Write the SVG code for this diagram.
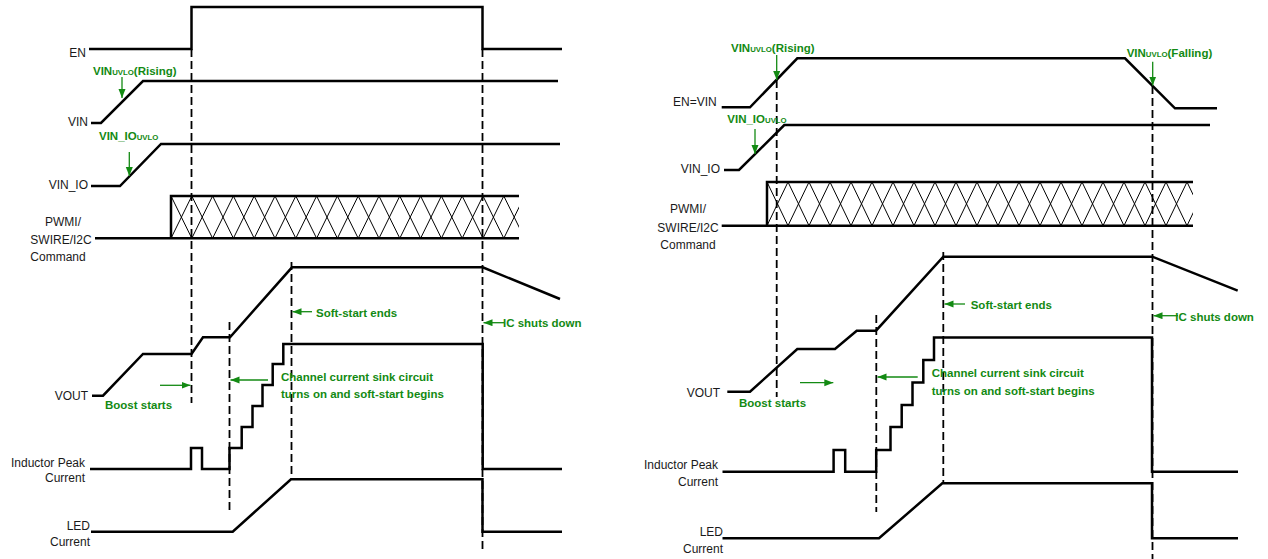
<svg xmlns="http://www.w3.org/2000/svg" width="1268" height="559" viewBox="0 0 1268 559">
<defs>
<style>
.w{fill:none;stroke:#000;stroke-width:2.5;stroke-linejoin:miter}
.d{fill:none;stroke:#000;stroke-width:1.8;stroke-dasharray:8 4}
.a{fill:none;stroke:#138a13;stroke-width:1.3;marker-end:url(#ah)}
.lb{font-family:"Liberation Sans",Arial,sans-serif;font-size:12px;fill:#1a1a1a}
.g{font-family:"Liberation Sans",Arial,sans-serif;font-size:11.5px;font-weight:bold;fill:#138a13}
.sub{font-size:7.8px}
.h{fill:none;stroke:#000;stroke-width:1}
</style>
<marker id="ah" markerUnits="userSpaceOnUse" markerWidth="10" markerHeight="8" refX="9" refY="3.5" orient="auto">
<path d="M0,0 L9,3.5 L0,7 z" fill="#138a13"/>
</marker>
<clipPath id="clipL"><rect x="171" y="195" width="348" height="44.3"/></clipPath>
<clipPath id="clipR"><rect x="767" y="181" width="426" height="45.7"/></clipPath>
</defs>
<rect width="1268" height="559" fill="#fff"/>

<!-- LEFT DIAGRAM -->
<g id="left-labels">
<text class="lb" x="86" y="57" text-anchor="end">EN</text>
<text class="lb" x="88" y="126" text-anchor="end">VIN</text>
<text class="lb" x="88" y="189" text-anchor="end">VIN_IO</text>
<text class="lb" x="63" y="226" text-anchor="middle">PWMI/</text>
<text class="lb" x="61" y="243.5" text-anchor="middle">SWIRE/I2C</text>
<text class="lb" x="58" y="260.5" text-anchor="middle">Command</text>
<text class="lb" x="88" y="400" text-anchor="end">VOUT</text>
<text class="lb" x="85" y="466.7" text-anchor="end">Inductor Peak</text>
<text class="lb" x="85" y="482.3" text-anchor="end">Current</text>
<text class="lb" x="90" y="530" text-anchor="end">LED</text>
<text class="lb" x="90" y="546" text-anchor="end">Current</text>
</g>
<g id="left-en"><path class="w" d="M89,49 H191.5 V7 H482.5 V49 H562"/></g>
<g id="left-vin"><path class="w" d="M91,123 H101 L143,81 H558"/></g>
<g id="left-vinio"><path class="w" d="M91,186 H120 L161,144 H560"/></g>
<g id="left-pwm">
<path class="h" clip-path="url(#clipL)" d="M171,196 L191.8,238.3 M191.8,196 L212.6,238.3 M212.6,196 L233.4,238.3 M233.4,196 L254.2,238.3 M254.2,196 L275,238.3 M275,196 L295.8,238.3 M295.8,196 L316.6,238.3 M316.6,196 L337.4,238.3 M337.4,196 L358.2,238.3 M358.2,196 L379,238.3 M379,196 L399.8,238.3 M399.8,196 L420.6,238.3 M420.6,196 L441.4,238.3 M441.4,196 L462.2,238.3 M462.2,196 L483,238.3 M483,196 L503.8,238.3 M503.8,196 L524.6,238.3 M171,238.3 L191.8,196 M191.8,238.3 L212.6,196 M212.6,238.3 L233.4,196 M233.4,238.3 L254.2,196 M254.2,238.3 L275,196 M275,238.3 L295.8,196 M295.8,238.3 L316.6,196 M316.6,238.3 L337.4,196 M337.4,238.3 L358.2,196 M358.2,238.3 L379,196 M379,238.3 L399.8,196 M399.8,238.3 L420.6,196 M420.6,238.3 L441.4,196 M441.4,238.3 L462.2,196 M462.2,238.3 L483,196 M483,238.3 L503.8,196 M503.8,238.3 L524.6,196"/>
<path class="w" d="M95,238.3 H519 M171,238.3 V196 H519"/>
</g>
<g id="left-vout"><path class="w" d="M92,395.7 H103 L143,354 H191.5 L203,337.3 H230 L292,267.3 H482.7 L560,299"/></g>
<g id="left-ind"><path class="w" d="M90,469 H191 V448 H202 V469 H229.5 V448 H241.7 V427 H252.5 V406 H262.5 V385 H272.7 V364 H283.3 V344 H482.7 V469 H562"/></g>
<g id="left-led"><path class="w" d="M91,531.7 H232.7 L291,479.3 H482.5 V531.7 H562"/></g>
<g id="left-dashes">
<line class="d" x1="191.5" y1="49" x2="191.5" y2="403"/>
<line class="d" x1="229.5" y1="322" x2="229.5" y2="512"/>
<line class="d" x1="291.5" y1="262" x2="291.5" y2="479"/>
<line class="d" x1="482.5" y1="49" x2="482.5" y2="551"/>
</g>
<g id="left-annotations">
<text class="g" x="93" y="75">VIN<tspan class="sub">UVLO</tspan>(Rising)</text>
<line class="a" x1="122" y1="77" x2="122" y2="98"/>
<text class="g" x="99" y="140">VIN_IO<tspan class="sub">UVLO</tspan></text>
<line class="a" x1="129.3" y1="152" x2="129.3" y2="176"/>
<text class="g" x="105" y="409">Boost starts</text>
<line class="a" x1="160" y1="385.3" x2="190.5" y2="385.3"/>
<text class="g" x="281" y="381">Channel current sink circuit</text>
<text class="g" x="281" y="397.5">turns on and soft-start begins</text>
<line class="a" x1="268" y1="380" x2="230.5" y2="380"/>
<text class="g" x="316" y="316.7">Soft-start ends</text>
<line class="a" x1="312" y1="311.7" x2="292.5" y2="311.7"/>
<text class="g" x="503" y="327.3">IC shuts down</text>
<line class="a" x1="504" y1="322.7" x2="483.5" y2="322.7"/>
</g>

<!-- RIGHT DIAGRAM -->
<g id="right-labels">
<text class="lb" x="716.7" y="106" text-anchor="end">EN=VIN</text>
<text class="lb" x="720" y="173" text-anchor="end">VIN_IO</text>
<text class="lb" x="688" y="213.3" text-anchor="middle">PWMI/</text>
<text class="lb" x="688" y="231.5" text-anchor="middle">SWIRE/I2C</text>
<text class="lb" x="688" y="249" text-anchor="middle">Command</text>
<text class="lb" x="720" y="397" text-anchor="end">VOUT</text>
<text class="lb" x="718" y="468.5" text-anchor="end">Inductor Peak</text>
<text class="lb" x="718" y="486" text-anchor="end">Current</text>
<text class="lb" x="723" y="535.5" text-anchor="end">LED</text>
<text class="lb" x="723" y="552.5" text-anchor="end">Current</text>
</g>
<g id="right-envin"><path class="w" d="M721.7,107.3 H750 L797.3,58.3 H1125 L1175,108.3 H1217"/></g>
<g id="right-vinio"><path class="w" d="M724,170 H739 L784.3,125 H1210"/></g>
<g id="right-pwm">
<path class="h" clip-path="url(#clipR)" d="M767,182 L788,225.7 M788,182 L809,225.7 M809,182 L830,225.7 M830,182 L851,225.7 M851,182 L872,225.7 M872,182 L893,225.7 M893,182 L914,225.7 M914,182 L935,225.7 M935,182 L956,225.7 M956,182 L977,225.7 M977,182 L998,225.7 M998,182 L1019,225.7 M1019,182 L1040,225.7 M1040,182 L1061,225.7 M1061,182 L1082,225.7 M1082,182 L1103,225.7 M1103,182 L1124,225.7 M1124,182 L1145,225.7 M1145,182 L1166,225.7 M1166,182 L1187,225.7 M1187,182 L1208,225.7 M767,225.7 L788,182 M788,225.7 L809,182 M809,225.7 L830,182 M830,225.7 L851,182 M851,225.7 L872,182 M872,225.7 L893,182 M893,225.7 L914,182 M914,225.7 L935,182 M935,225.7 L956,182 M956,225.7 L977,182 M977,225.7 L998,182 M998,225.7 L1019,182 M1019,225.7 L1040,182 M1040,225.7 L1061,182 M1061,225.7 L1082,182 M1082,225.7 L1103,182 M1103,225.7 L1124,182 M1124,225.7 L1145,182 M1145,225.7 L1166,182 M1166,225.7 L1187,182 M1187,225.7 L1208,182"/>
<path class="w" d="M721.7,225.7 H1193 M767,225.7 V182 H1193"/>
</g>
<g id="right-vout"><path class="w" d="M727.3,391.7 H750 L797.3,349 H835 L856.7,330.7 H876 L943.3,256.7 H1152.3 L1237.7,290.7"/></g>
<g id="right-ind"><path class="w" d="M722.5,471.7 H833.6 V450 H845.2 V471.7 H876.2 V450 H890.5 V427 H901.7 V405 H912.5 V382.5 H923.3 V360 H934 V337.5 H1152 V471.7 H1238"/></g>
<g id="right-led"><path class="w" d="M722.5,538.3 H879 L942.3,483.3 H1152 V538.3 H1238"/></g>
<g id="right-dashes">
<line class="d" x1="776.7" y1="80" x2="776.7" y2="397"/>
<line class="d" x1="876.3" y1="315" x2="876.3" y2="512"/>
<line class="d" x1="943.3" y1="252" x2="943.3" y2="483"/>
<line class="d" x1="1152.5" y1="86" x2="1152.5" y2="559"/>
</g>
<g id="right-annotations">
<text class="g" x="731" y="51.7">VIN<tspan class="sub">UVLO</tspan>(Rising)</text>
<line class="a" x1="776.7" y1="55" x2="776.7" y2="80"/>
<text class="g" x="727.3" y="122.5">VIN_IO<tspan class="sub">UVLO</tspan></text>
<line class="a" x1="755" y1="129" x2="755" y2="154"/>
<text class="g" x="1126.7" y="56.7">VIN<tspan class="sub">UVLO</tspan>(Falling)</text>
<line class="a" x1="1152.7" y1="61.7" x2="1152.7" y2="85.5"/>
<text class="g" x="970.7" y="309.3">Soft-start ends</text>
<line class="a" x1="965" y1="304" x2="944.5" y2="304"/>
<text class="g" x="1175.3" y="321">IC shuts down</text>
<line class="a" x1="1178" y1="315.7" x2="1153.5" y2="315.7"/>
<text class="g" x="931.7" y="377.3">Channel current sink circuit</text>
<text class="g" x="931.7" y="395">turns on and soft-start begins</text>
<line class="a" x1="917.7" y1="377" x2="877.5" y2="377"/>
<text class="g" x="739" y="407.3">Boost starts</text>
<line class="a" x1="800" y1="382.7" x2="833.3" y2="382.7"/>
</g>
</svg>
